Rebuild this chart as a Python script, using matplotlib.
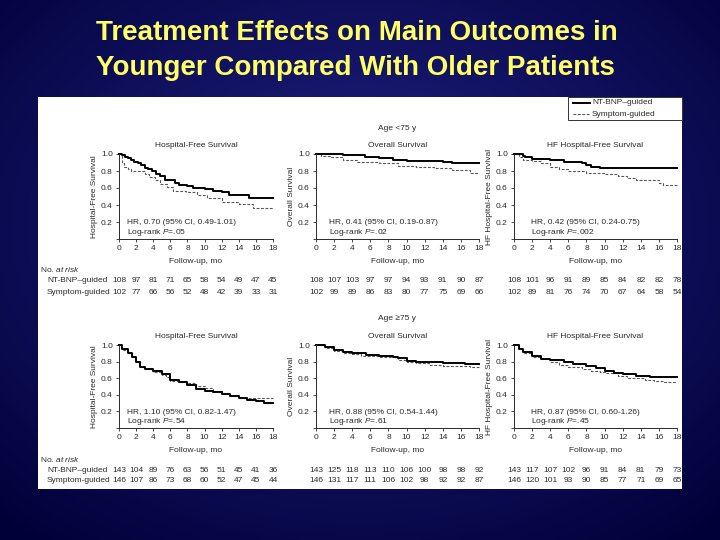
import matplotlib
matplotlib.use("Agg")
import numpy as np
import matplotlib.pyplot as plt
from matplotlib.patches import Rectangle
from matplotlib.lines import Line2D
from matplotlib.transforms import blended_transform_factory

plt.rcParams["font.family"] = ["Liberation Sans", "DejaVu Sans"]
plt.rcParams["mathtext.fontset"] = "custom"
plt.rcParams["mathtext.rm"] = "Liberation Sans"
plt.rcParams["mathtext.it"] = "Liberation Sans:italic"

# ---- data: Kaplan-Meier steps ----
# Age <75 y
t_hfs_young_nt = [0, 0.3, 0.7, 1.0, 1.4, 1.8, 2.2, 2.6, 3.0, 3.4, 3.8, 4.3, 4.8, 5.4, 6.5, 7.0, 8.0, 8.6, 10.0, 11.0, 12.0, 12.8, 15.2, 18]
s_hfs_young_nt = [1.0, 0.99, 0.97, 0.95, 0.93, 0.91, 0.89, 0.87, 0.84, 0.82, 0.80, 0.77, 0.74, 0.70, 0.66, 0.64, 0.62, 0.60, 0.59, 0.57, 0.55, 0.52, 0.48, 0.48]
t_hfs_young_sy = [0, 0.4, 0.6, 1.0, 1.4, 3.0, 3.5, 4.2, 4.8, 5.6, 6.3, 7.8, 9.1, 10.3, 12.0, 13.2, 14.0, 15.7, 18]
s_hfs_young_sy = [1.0, 0.90, 0.85, 0.82, 0.80, 0.76, 0.73, 0.69, 0.65, 0.61, 0.57, 0.55, 0.52, 0.48, 0.44, 0.43, 0.41, 0.36, 0.36]

t_os_young_nt = [0, 3.0, 5.4, 7.0, 8.5, 10.0, 14.0, 15.0, 18]
s_os_young_nt = [1.0, 0.99, 0.96, 0.95, 0.93, 0.92, 0.91, 0.90, 0.90]
t_os_young_sy = [0, 0.5, 1.5, 3.0, 4.5, 7.0, 9.0, 11.0, 13.0, 15.0, 17.0, 18]
s_os_young_sy = [1.0, 0.98, 0.96, 0.93, 0.91, 0.89, 0.86, 0.85, 0.83, 0.81, 0.78, 0.78]

t_hf_young_nt = [0, 1.0, 1.2, 2.0, 4.0, 5.5, 7.5, 8.0, 8.5, 9.5, 18]
s_hf_young_nt = [1.0, 0.98, 0.96, 0.94, 0.93, 0.91, 0.90, 0.87, 0.85, 0.83, 0.83]
t_hf_young_sy = [0, 0.5, 1.0, 2.0, 3.0, 4.0, 5.0, 6.0, 8.0, 10.0, 11.5, 12.5, 13.5, 15.0, 16.0, 16.5, 18]
s_hf_young_sy = [1.0, 0.97, 0.93, 0.92, 0.89, 0.85, 0.82, 0.80, 0.78, 0.76, 0.74, 0.72, 0.70, 0.69, 0.66, 0.64, 0.64]

# Age >=75 y
t_hfs_old_nt = [0, 0.4, 1.0, 1.5, 2.0, 2.5, 3.0, 4.0, 5.0, 6.0, 7.0, 8.0, 9.0, 10.0, 11.0, 12.0, 13.0, 14.0, 15.0, 16.0, 17.0, 18]
s_hfs_old_nt = [1.0, 0.95, 0.90, 0.86, 0.80, 0.73, 0.71, 0.69, 0.65, 0.58, 0.56, 0.52, 0.47, 0.45, 0.43, 0.41, 0.38, 0.36, 0.34, 0.32, 0.30, 0.30]
t_hfs_old_sy = [0, 0.4, 1.0, 1.5, 2.0, 2.5, 3.0, 4.0, 5.0, 5.5, 6.0, 7.0, 8.0, 9.0, 10.0, 11.0, 12.0, 13.0, 14.0, 18]
s_hfs_old_sy = [1.0, 0.94, 0.90, 0.85, 0.80, 0.74, 0.71, 0.68, 0.64, 0.61, 0.57, 0.56, 0.54, 0.51, 0.48, 0.44, 0.42, 0.39, 0.36, 0.36]

t_os_old_nt = [0, 1.0, 2.0, 3.0, 4.0, 5.5, 7.0, 8.5, 9.0, 10.0, 11.0, 12.5, 14.0, 16.5, 18]
s_os_old_nt = [1.0, 0.97, 0.94, 0.91, 0.90, 0.88, 0.87, 0.86, 0.84, 0.81, 0.80, 0.79, 0.78, 0.77, 0.77]
t_os_old_sy = [0, 1.0, 2.0, 3.0, 4.0, 5.0, 7.0, 8.0, 9.0, 10.0, 11.0, 12.5, 14.0, 17.0, 18]
s_os_old_sy = [1.0, 0.96, 0.93, 0.90, 0.89, 0.87, 0.86, 0.85, 0.82, 0.80, 0.78, 0.76, 0.75, 0.74, 0.74]

t_hf_old_nt = [0, 0.5, 1.0, 2.0, 3.0, 4.0, 5.5, 6.5, 8.0, 9.0, 10.0, 11.0, 12.0, 13.5, 15.0, 16.0, 18]
s_hf_old_nt = [1.0, 0.95, 0.91, 0.87, 0.83, 0.82, 0.80, 0.77, 0.75, 0.72, 0.69, 0.66, 0.65, 0.63, 0.62, 0.61, 0.61]
t_hf_old_sy = [0, 0.5, 1.0, 2.0, 3.0, 4.0, 5.0, 6.0, 7.5, 8.5, 9.5, 10.0, 11.5, 12.5, 14.5, 15.5, 16.5, 18]
s_hf_old_sy = [1.0, 0.95, 0.90, 0.86, 0.83, 0.79, 0.76, 0.73, 0.71, 0.69, 0.68, 0.66, 0.63, 0.60, 0.58, 0.57, 0.56, 0.56]

risk_times = [0, 2, 4, 6, 8, 10, 12, 14, 16, 18]
risk_hfs_young_nt = [108, 97, 81, 71, 65, 58, 54, 49, 47, 45]
risk_hfs_young_sy = [102, 77, 66, 56, 52, 48, 42, 39, 33, 31]
risk_os_young_nt = [108, 107, 103, 97, 97, 94, 93, 91, 90, 87]
risk_os_young_sy = [102, 99, 89, 86, 83, 80, 77, 75, 69, 66]
risk_hf_young_nt = [108, 101, 96, 91, 89, 85, 84, 82, 82, 78]
risk_hf_young_sy = [102, 89, 81, 76, 74, 70, 67, 64, 58, 54]
risk_hfs_old_nt = [143, 104, 89, 76, 63, 56, 51, 45, 41, 36]
risk_hfs_old_sy = [146, 107, 86, 73, 68, 60, 52, 47, 45, 44]
risk_os_old_nt = [143, 125, 118, 113, 110, 106, 100, 98, 98, 92]
risk_os_old_sy = [146, 131, 117, 111, 106, 102, 98, 92, 92, 87]
risk_hf_old_nt = [143, 117, 107, 102, 96, 91, 84, 81, 79, 73]
risk_hf_old_sy = [146, 120, 101, 93, 90, 85, 77, 71, 69, 65]

titles = ["Hospital-Free Survival", "Overall Survival", "HF Hospital-Free Survival"]
ylabels = ["Hospital-Free Survival", "Overall Survival", "HF Hospital-Free Survival"]
hr_young = ["HR, 0.70 (95% CI, 0.49-1.01)", "HR, 0.41 (95% CI, 0.19-0.87)", "HR, 0.42 (95% CI, 0.24-0.75)"]
p_young = [".05", ".02", ".002"]
hr_old = ["HR, 1.10 (95% CI, 0.82-1.47)", "HR, 0.88 (95% CI, 0.54-1.44)", "HR, 0.87 (95% CI, 0.60-1.26)"]
p_old = [".54", ".61", ".45"]

# ---- canvas 720x540 ----
W, H = 720, 540
fig = plt.figure(figsize=(7.2, 5.4), dpi=100)

def fx(px): return px / W
def fy(py): return 1 - py / H

# background gradient (dark navy, brighter middle)
bg = fig.add_axes([0, 0, 1, 1])
yy, xx = np.mgrid[0:1:270j, 0:1:360j]
r = np.sqrt(((xx - 0.5) / 0.75) ** 2 + ((yy - 0.42) / 0.75) ** 2)
r = np.clip(r, 0, 1)
c_in = np.array([0x22, 0x22, 0x86]) / 255
c_out = np.array([0x00, 0x00, 0x38]) / 255
img = c_in[None, None, :] * (1 - r[..., None]) + c_out[None, None, :] * r[..., None]
bg.imshow(img, extent=[0, 1, 0, 1], aspect="auto", origin="upper")
bg.set_xlim(0, 1); bg.set_ylim(0, 1)
bg.axis("off")

fig.text(fx(96), fy(33), "Treatment Effects on Main Outcomes in", color="#FFFF66",
         fontsize=20, fontweight="bold", ha="left", va="center")
fig.text(fx(96), fy(68), "Younger Compared With Older Patients", color="#FFFF66",
         fontsize=20, fontweight="bold", ha="left", va="center")

# white panel
fig.patches.append(Rectangle((fx(38), fy(489)), fx(682) - fx(38), fy(97) - fy(489),
                             transform=fig.transFigure, facecolor="white",
                             edgecolor="none", zorder=1))

INK = "#2a2a2a"
FS = 6.0
cols = [(119, 273), (316, 479), (514, 677)]
rows = [(239, 154), (428, 345)]

panels = [
    [(t_hfs_young_nt, s_hfs_young_nt, t_hfs_young_sy, s_hfs_young_sy, risk_hfs_young_nt, risk_hfs_young_sy),
     (t_os_young_nt, s_os_young_nt, t_os_young_sy, s_os_young_sy, risk_os_young_nt, risk_os_young_sy),
     (t_hf_young_nt, s_hf_young_nt, t_hf_young_sy, s_hf_young_sy, risk_hf_young_nt, risk_hf_young_sy)],
    [(t_hfs_old_nt, s_hfs_old_nt, t_hfs_old_sy, s_hfs_old_sy, risk_hfs_old_nt, risk_hfs_old_sy),
     (t_os_old_nt, s_os_old_nt, t_os_old_sy, s_os_old_sy, risk_os_old_nt, risk_os_old_sy),
     (t_hf_old_nt, s_hf_old_nt, t_hf_old_sy, s_hf_old_sy, risk_hf_old_nt, risk_hf_old_sy)],
]
hrs = [hr_young, hr_old]
ps = [p_young, p_old]
hr_x = [0.9, 1.4, 1.9]

for ri, (y0, y1) in enumerate(rows):
    for ci, (x0, x1) in enumerate(cols):
        tn, sn, ts, ss, rn, rs = panels[ri][ci]
        ax = fig.add_axes([fx(x0), fy(y0), fx(x1) - fx(x0), fy(y1) - fy(y0)], zorder=3)
        ax.patch.set_alpha(0)
        ax.step(ts, ss, where="post", color="#555555", lw=0.8,
                linestyle=(0, (2.5, 1.5)), clip_on=False)
        ax.step(tn, sn, where="post", color="black", lw=1.4, clip_on=False)
        ax.set_xlim(0, 18)
        ax.set_ylim(0, 1.0)
        ax.set_xticks(range(0, 19, 2))
        ax.set_yticks([0, 0.2, 0.4, 0.6, 0.8, 1.0])
        ax.set_yticklabels(["", "0.2", "0.4", "0.6", "0.8", "1.0"])
        for s in ["top", "right"]:
            ax.spines[s].set_visible(False)
        for s in ["left", "bottom"]:
            ax.spines[s].set_linewidth(0.7)
            ax.spines[s].set_color(INK)
        ax.tick_params(labelsize=FS, length=2.5, width=0.6, colors=INK, pad=2)
        ax.set_xlabel("Follow-up, mo", fontsize=FS, color=INK, labelpad=4)
        ax.set_ylabel(ylabels[ci], fontsize=FS, color=INK, labelpad=2)
        ax.set_title(titles[ci], fontsize=FS, color=INK, pad=5)
        ax.text(hr_x[ci], 0.19, hrs[ri][ci], fontsize=FS, color=INK, va="center")
        ax.text(hr_x[ci], 0.08, "Log-rank $P$=" + ps[ri][ci], fontsize=FS, color=INK, va="center")

        tr = blended_transform_factory(ax.transData, fig.transFigure)
        base = y0 + 42
        for t, n1, n2 in zip(risk_times, rn, rs):
            ax.text(t, fy(base), str(n1), transform=tr, fontsize=FS, color=INK,
                    ha="center", va="center", clip_on=False)
            ax.text(t, fy(base + 11), str(n2), transform=tr, fontsize=FS, color=INK,
                    ha="center", va="center", clip_on=False)
        if ci == 0:
            fig.text(fx(40), fy(base - 11), r"No. $at\ risk$", fontsize=FS, color=INK,
                     ha="left", va="center", zorder=4)
            fig.text(fx(47), fy(base), "NT-BNP\u2013guided", fontsize=FS, color=INK,
                     ha="left", va="center", zorder=4)
            fig.text(fx(47), fy(base + 11), "Symptom-guided", fontsize=FS, color=INK,
                     ha="left", va="center", zorder=4)

fig.text(fx(397), fy(128), "Age <75 y", fontsize=FS, color=INK, ha="center", va="center", zorder=4)
fig.text(fx(397), fy(318), "Age \u226575 y", fontsize=FS, color=INK, ha="center", va="center", zorder=4)

# legend box
fig.patches.append(Rectangle((fx(568), fy(120)), fx(682) - fx(568), fy(97) - fy(120),
                             transform=fig.transFigure, facecolor="white",
                             edgecolor="#333333", lw=0.7, zorder=4))
fig.lines.append(Line2D([fx(573), fx(590)], [fy(102.5), fy(102.5)], transform=fig.transFigure,
                        color="black", lw=1.4, zorder=5))
fig.lines.append(Line2D([fx(573), fx(590)], [fy(114), fy(114)], transform=fig.transFigure,
                        color="#555555", lw=0.8, linestyle=(0, (2.5, 1.5)), zorder=5))
fig.text(fx(592), fy(102.5), "NT-BNP\u2013guided", fontsize=FS, color=INK, ha="left", va="center", zorder=5)
fig.text(fx(592), fy(114), "Symptom-guided", fontsize=FS, color=INK, ha="left", va="center", zorder=5)

fig.savefig("out.png", dpi=100)
